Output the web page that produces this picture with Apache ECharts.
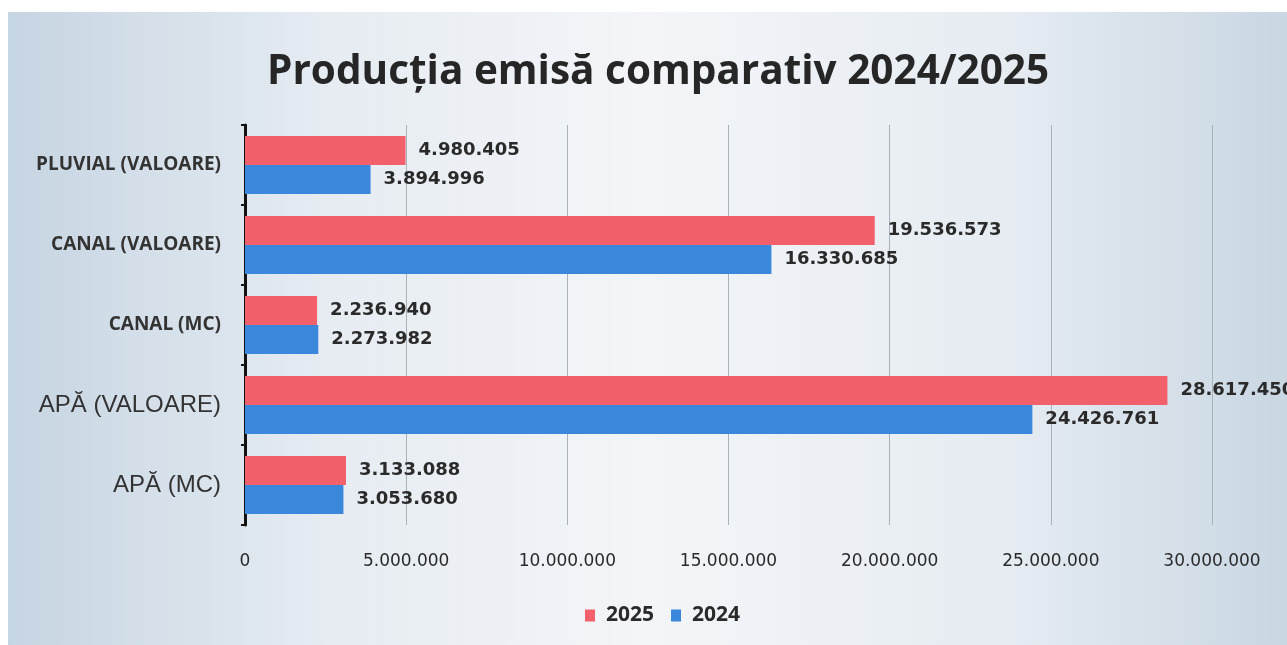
<!DOCTYPE html>
<html>
<head>
<meta charset="utf-8">
<script src="https://cdn.jsdelivr.net/npm/echarts@6/dist/echarts.min.js"></script>
<style>
  html, body { margin: 0; padding: 0; background: #ffffff; }
  #main { width: 1287px; height: 645px; }
</style>
</head>
<body>
<div id="main"></div>
<script>
// categorii, de jos in sus
var categorii = ['APĂ (MC)', 'APĂ (VALOARE)', 'CANAL (MC)', 'CANAL (VALOARE)', 'PLUVIAL (VALOARE)'];
var valori2025 = [3133088, 28617450, 2236940, 19536573, 4980405];
var valori2024 = [3053680, 24426761, 2273982, 16330685, 3894996];
var ticksX = [0, 5000000, 10000000, 15000000, 20000000, 25000000, 30000000];

function fmt(v) {
    return String(v).replace(/\B(?=(\d{3})+(?!\d))/g, '.');
}

var chart = echarts.init(document.getElementById('main'), null, { renderer: 'canvas' });

var labelStyle = {
    show: true,
    position: 'right',
    distance: 13,
    color: '#2a2a2a',
    fontWeight: 'bold',
    fontSize: 18,
    fontFamily: 'DejaVu Sans',
    formatter: function (p) { return fmt(p.value); }
};

var option = {
    backgroundColor: '#ffffff',
    graphic: [{
        type: 'rect',
        z: -10,
        shape: { x: 8, y: 12, width: 1279, height: 633 },
        style: {
            fill: new echarts.graphic.LinearGradient(0, 0, 1, 0, [
                { offset: 0, color: '#c6d5e2' },
                { offset: 0.25, color: '#e6ecf2' },
                { offset: 0.5, color: '#f3f5f8' },
                { offset: 0.78, color: '#e6ecf2' },
                { offset: 1, color: '#c9d7e3' }
            ])
        }
    }],
    title: {
        text: 'Producția emisă comparativ 2024/2025',
        left: 262,
        top: 47,
        textStyle: {
            fontFamily: 'Open Sans',
            fontWeight: 'bold',
            fontSize: 40.5,
            color: '#262626'
        }
    },
    legend: {
        data: ['2025', '2024'],
        top: 600,
        left: 580,
        itemWidth: 10,
        itemHeight: 12,
        itemGap: 17,
        icon: 'rect',
        textStyle: { fontSize: 21, color: '#2a2a2a', fontFamily: 'Open Sans, sans-serif', fontWeight: 'bold', padding: [0, 0, 0, 6] }
    },
    grid: {
        left: 245,
        right: 75,
        top: 125,
        bottom: 120
    },
    xAxis: {
        type: 'value',
        min: 0,
        max: 30000000,
        interval: 5000000,
        axisLine: { show: false },
        axisTick: { show: false },
        splitLine: { show: true, lineStyle: { color: '#a9b1b9', width: 1 } },
        axisLabel: {
            margin: 28,
            fontSize: 17,
            color: '#2a2a2a',
            fontFamily: 'DejaVu Sans, sans-serif',
            formatter: function (v) { return fmt(v); }
        }
    },
    yAxis: {
        type: 'category',
        data: categorii.map(function (c) {
            var big = c.indexOf('APĂ') === 0;
            return {
                value: c,
                textStyle: big
                    ? { fontSize: 24, fontFamily: 'Liberation Sans, sans-serif', fontWeight: 'normal' }
                    : { fontSize: 19, fontFamily: 'Open Sans, sans-serif', fontWeight: 'bold' }
            };
        }),
        axisLine: { show: true, lineStyle: { color: '#111', width: 3 } },
        axisTick: { show: true, length: 4, lineStyle: { color: '#111', width: 2 } },
        axisLabel: { color: '#333', margin: 24 },
        splitLine: { show: false }
    },
    series: [{
        name: '2025',
        type: 'bar',
        data: valori2025,
        barWidth: 29,
        barGap: '0%',
        itemStyle: { color: '#f2606c' },
        label: labelStyle
    }, {
        name: '2024',
        type: 'bar',
        data: valori2024,
        barWidth: 29,
        barGap: '0%',
        itemStyle: { color: '#3a87dc' },
        label: labelStyle
    }]
};

chart.setOption(option);
</script>
</body>
</html>
